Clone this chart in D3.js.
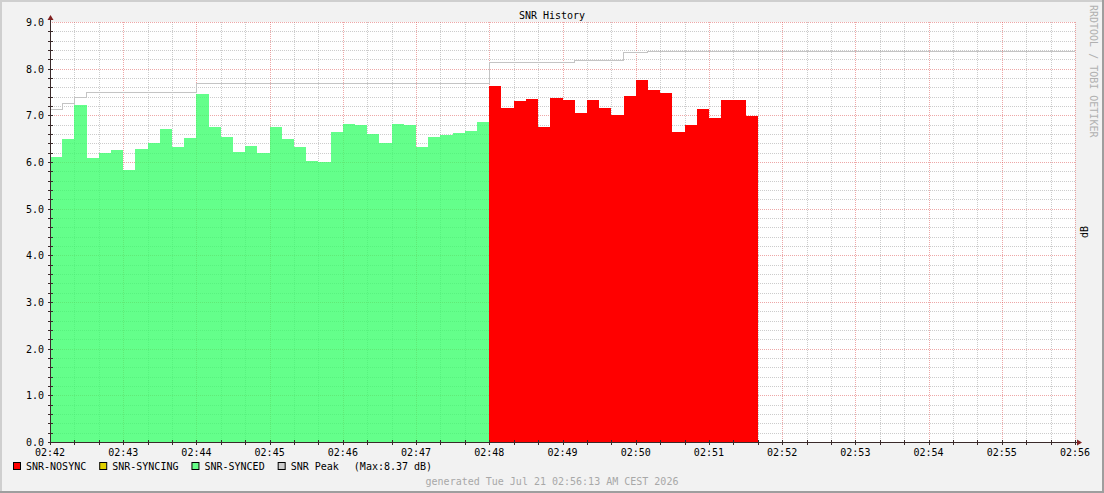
<!DOCTYPE html>
<html>
<head>
<meta charset="utf-8">
<script src="https://cdn.jsdelivr.net/npm/d3@7"></script>
<style>
  body { margin: 0; background: #f2f2f2; }
  svg { display: block; font-family: "DejaVu Sans Mono", monospace; }
</style>
</head>
<body>
<div id="grafico"></div>
<script>
// Datos (muestras cada 10 segundos)
const paso = 10;
const inicioSynced = "02:42:00";
const synced = [6.11, 6.49, 7.22, 6.09, 6.19, 6.26, 5.83, 6.28, 6.41, 6.71, 6.32, 6.51,
  7.46, 6.75, 6.54, 6.22, 6.34, 6.20, 6.75, 6.49, 6.32, 6.03, 6.01, 6.64,
  6.81, 6.79, 6.60, 6.41, 6.81, 6.79, 6.32, 6.54, 6.58, 6.62, 6.66, 6.86];
const inicioNosync = "02:48:00";
const nosync = [7.63, 7.16, 7.31, 7.35, 6.75, 7.37, 7.33, 7.05, 7.33, 7.16, 7.01,
  7.41, 7.76, 7.54, 7.48, 6.64, 6.79, 7.14, 6.95, 7.33, 7.33, 6.99];
const syncing = [];
// Pico: instantes de cambio y valor
const picoHoras = ["02:42:00", "02:42:10", "02:42:20", "02:42:30", "02:44:00",
  "02:48:00", "02:49:10", "02:49:50", "02:50:10", "02:56:00"];
const picoValores = [7.13, 7.26, 7.39, 7.51, 7.70, 8.14, 8.18, 8.35, 8.37, 8.37];
const picoMax = "8.37";
const dominioHoras = ["02:42:00", "02:56:00"];
const ticksY = [0, 1, 2, 3, 4, 5, 6, 7, 8, 9];

// Dimensiones
const ancho = 1104;
const alto = 493;
const margen = { superior: 22, derecho: 29, inferior: 51, izquierdo: 50 };
const x0 = margen.izquierdo, x1 = ancho - margen.derecho;
const y0 = margen.superior, y1 = alto - margen.inferior;

const parse = d3.timeParse("%H:%M:%S");

const svg = d3.select("#grafico")
  .append("svg")
  .attr("width", ancho)
  .attr("height", alto);

// Fondo y sombras del marco
svg.append("rect").attr("width", ancho).attr("height", alto).attr("fill", "#f2f2f2");
svg.append("rect").attr("x", 0).attr("y", 0).attr("width", ancho).attr("height", 2).attr("fill", "#cfcfcf");
svg.append("rect").attr("x", 0).attr("y", 0).attr("width", 2).attr("height", alto).attr("fill", "#cfcfcf");
svg.append("rect").attr("x", 0).attr("y", alto - 2).attr("width", ancho).attr("height", 2).attr("fill", "#9e9e9e");
svg.append("rect").attr("x", ancho - 2).attr("y", 0).attr("width", 2).attr("height", alto).attr("fill", "#9e9e9e");

// Escalas
const escalaX = d3.scaleTime()
  .domain(dominioHoras.map(parse))
  .range([x0, x1]);

const escalaY = d3.scaleLinear()
  .domain([0, 9])
  .range([y1, y0]);

// Lienzo
svg.append("rect")
  .attr("x", x0).attr("y", y0)
  .attr("width", x1 - x0).attr("height", y1 - y0)
  .attr("fill", "white");

// Rejilla (debajo de las áreas)
const px = v => Math.round(v) + 0.5;
const minorX = escalaX.ticks(d3.timeSecond.every(20));
const majorX = escalaX.ticks(d3.timeMinute.every(1));
const minorY = d3.range(0, 45).map(i => i / 5);
const colorMenor = "rgba(143,143,143,0.45)";
const colorMayor = "rgba(222,79,79,0.5)";

const rejilla = svg.append("g").attr("stroke-dasharray", "1,1").attr("fill", "none");

rejilla.selectAll(".vmin")
  .data(minorX.filter(t => t.getSeconds() !== 0))
  .enter().append("line")
  .attr("x1", d => px(escalaX(d))).attr("x2", d => px(escalaX(d)))
  .attr("y1", y0).attr("y2", y1)
  .attr("stroke", colorMenor);

rejilla.selectAll(".hmin")
  .data(minorY.filter(v => Math.abs(v - Math.round(v)) > 0.01))
  .enter().append("line")
  .attr("x1", x0).attr("x2", x1)
  .attr("y1", d => px(escalaY(d))).attr("y2", d => px(escalaY(d)))
  .attr("stroke", colorMenor);

rejilla.selectAll(".vmaj")
  .data(majorX.slice(1))
  .enter().append("line")
  .attr("x1", d => px(escalaX(d))).attr("x2", d => px(escalaX(d)))
  .attr("y1", y0).attr("y2", y1)
  .attr("stroke", colorMayor);

rejilla.selectAll(".hmaj")
  .data(ticksY.slice(1))
  .enter().append("line")
  .attr("x1", x0).attr("x2", x1)
  .attr("y1", d => px(escalaY(d))).attr("y2", d => px(escalaY(d)))
  .attr("stroke", colorMayor);

// Convierte una serie de valores en puntos escalonados
function puntos(inicio, valores) {
  const t0 = parse(inicio);
  const pts = valores.map((v, i) => ({ t: d3.timeSecond.offset(t0, i * paso), v }));
  if (valores.length) pts.push({ t: d3.timeSecond.offset(t0, valores.length * paso), v: valores[valores.length - 1] });
  return pts;
}

const area = d3.area()
  .curve(d3.curveStepAfter)
  .x(d => escalaX(d.t))
  .y0(escalaY(0))
  .y1(d => escalaY(d.v));

const series = [
  { nombre: "SNR-NOSYNC", color: "#ff0000", opacidad: 1, pts: puntos(inicioNosync, nosync) },
  { nombre: "SNR-SYNCING", color: "#e0d000", opacidad: 1, pts: puntos(inicioNosync, syncing) },
  { nombre: "SNR-SYNCED", color: "#33ff66", opacidad: 0.76, pts: puntos(inicioSynced, synced) }
];

svg.selectAll(".area")
  .data(series.filter(s => s.pts.length))
  .enter()
  .append("path")
  .attr("class", "area")
  .attr("d", d => area(d.pts))
  .attr("fill", d => d.color)
  .attr("fill-opacity", d => d.opacidad)
  .attr("shape-rendering", "crispEdges");

// Línea de pico
const linea = d3.line()
  .curve(d3.curveStepAfter)
  .x(d => escalaX(d.t))
  .y(d => Math.round(escalaY(d.v)) + 0.5);

svg.append("path")
  .attr("d", linea(picoHoras.map((h, i) => ({ t: parse(h), v: picoValores[i] }))))
  .attr("fill", "none")
  .attr("stroke", "#c4c4c4")
  .attr("stroke-width", 1)
  .attr("shape-rendering", "crispEdges");

// Ejes
const colorEje = "#3a2a2a";
const ejes = svg.append("g").attr("stroke", colorEje).attr("shape-rendering", "crispEdges");
ejes.append("line").attr("x1", x0 - 2).attr("x2", x1 + 3).attr("y1", px(y1)).attr("y2", px(y1));
ejes.append("line").attr("x1", px(x0)).attr("x2", px(x0)).attr("y1", y1 + 2).attr("y2", y0 - 4);

ejes.selectAll(".tx")
  .data(minorX)
  .enter().append("line")
  .attr("x1", d => px(escalaX(d))).attr("x2", d => px(escalaX(d)))
  .attr("y1", y1 - 2).attr("y2", y1 + 3);

ejes.selectAll(".ty")
  .data(minorY)
  .enter().append("line")
  .attr("x1", x0 - 2).attr("x2", x0 + 3)
  .attr("y1", d => px(escalaY(d))).attr("y2", d => px(escalaY(d)));

// Flechas
svg.append("path")
  .attr("d", `M${x0 - 2.5},${y0 - 2} L${x0 + 3.5},${y0 - 2} L${x0 + 0.5},${y0 - 7} Z`)
  .attr("fill", "#801f1f");
svg.append("path")
  .attr("d", `M${x1 + 2},${y1 - 2.5} L${x1 + 2},${y1 + 3.5} L${x1 + 7},${y1 + 0.5} Z`)
  .attr("fill", "#801f1f");

// Etiquetas
const fmt = d3.timeFormat("%H:%M");
svg.selectAll(".lx")
  .data(majorX)
  .enter().append("text")
  .attr("x", d => escalaX(d))
  .attr("y", y1 + 14)
  .attr("text-anchor", "middle")
  .attr("font-size", "10px")
  .attr("fill", "black")
  .text(d => fmt(d));

svg.selectAll(".ly")
  .data(ticksY)
  .enter().append("text")
  .attr("x", x0 - 6)
  .attr("y", d => escalaY(d) + 4)
  .attr("text-anchor", "end")
  .attr("font-size", "10px")
  .attr("fill", "black")
  .text(d => d.toFixed(1));

// Título
svg.append("text")
  .attr("x", ancho / 2)
  .attr("y", 19)
  .attr("text-anchor", "middle")
  .attr("font-size", "10px")
  .text("SNR History");

// Marca vertical y unidad
svg.append("text")
  .attr("transform", "translate(1089.5,5) rotate(90)")
  .attr("font-size", "10px")
  .attr("fill", "#b0b0b0")
  .text("RRDTOOL / TOBI OETIKER");

svg.append("text")
  .attr("transform", `translate(1088,${(y0 + y1) / 2}) rotate(-90)`)
  .attr("text-anchor", "middle")
  .attr("font-size", "10px")
  .text("dB");

// Leyenda
const leyenda = [
  { nombre: "SNR-NOSYNC", color: "#ff0000" },
  { nombre: "SNR-SYNCING", color: "#e0d000" },
  { nombre: "SNR-SYNCED", color: "#66ff88" },
  { nombre: "SNR Peak", color: "#cccccc" }
];
let lx = 13;
const ly = 470;
leyenda.forEach(d => {
  svg.append("rect")
    .attr("x", lx + 0.5).attr("y", ly - 7.5)
    .attr("width", 7).attr("height", 7)
    .attr("fill", d.color)
    .attr("stroke", "black");
  const t = svg.append("text")
    .attr("x", lx + 13)
    .attr("y", ly)
    .attr("font-size", "10px")
    .text(d.nombre);
  lx = lx + 13 + t.node().getComputedTextLength() + 13;
});
svg.append("text")
  .attr("x", lx + 2)
  .attr("y", ly)
  .attr("font-size", "10px")
  .text(`(Max:${picoMax} dB)`);

// Pie
svg.append("text")
  .attr("x", ancho / 2)
  .attr("y", 485)
  .attr("text-anchor", "middle")
  .attr("font-size", "10px")
  .attr("fill", "#a8a8a8")
  .text("generated Tue Jul 21 02:56:13 AM CEST 2026");
</script>
</body>
</html>
